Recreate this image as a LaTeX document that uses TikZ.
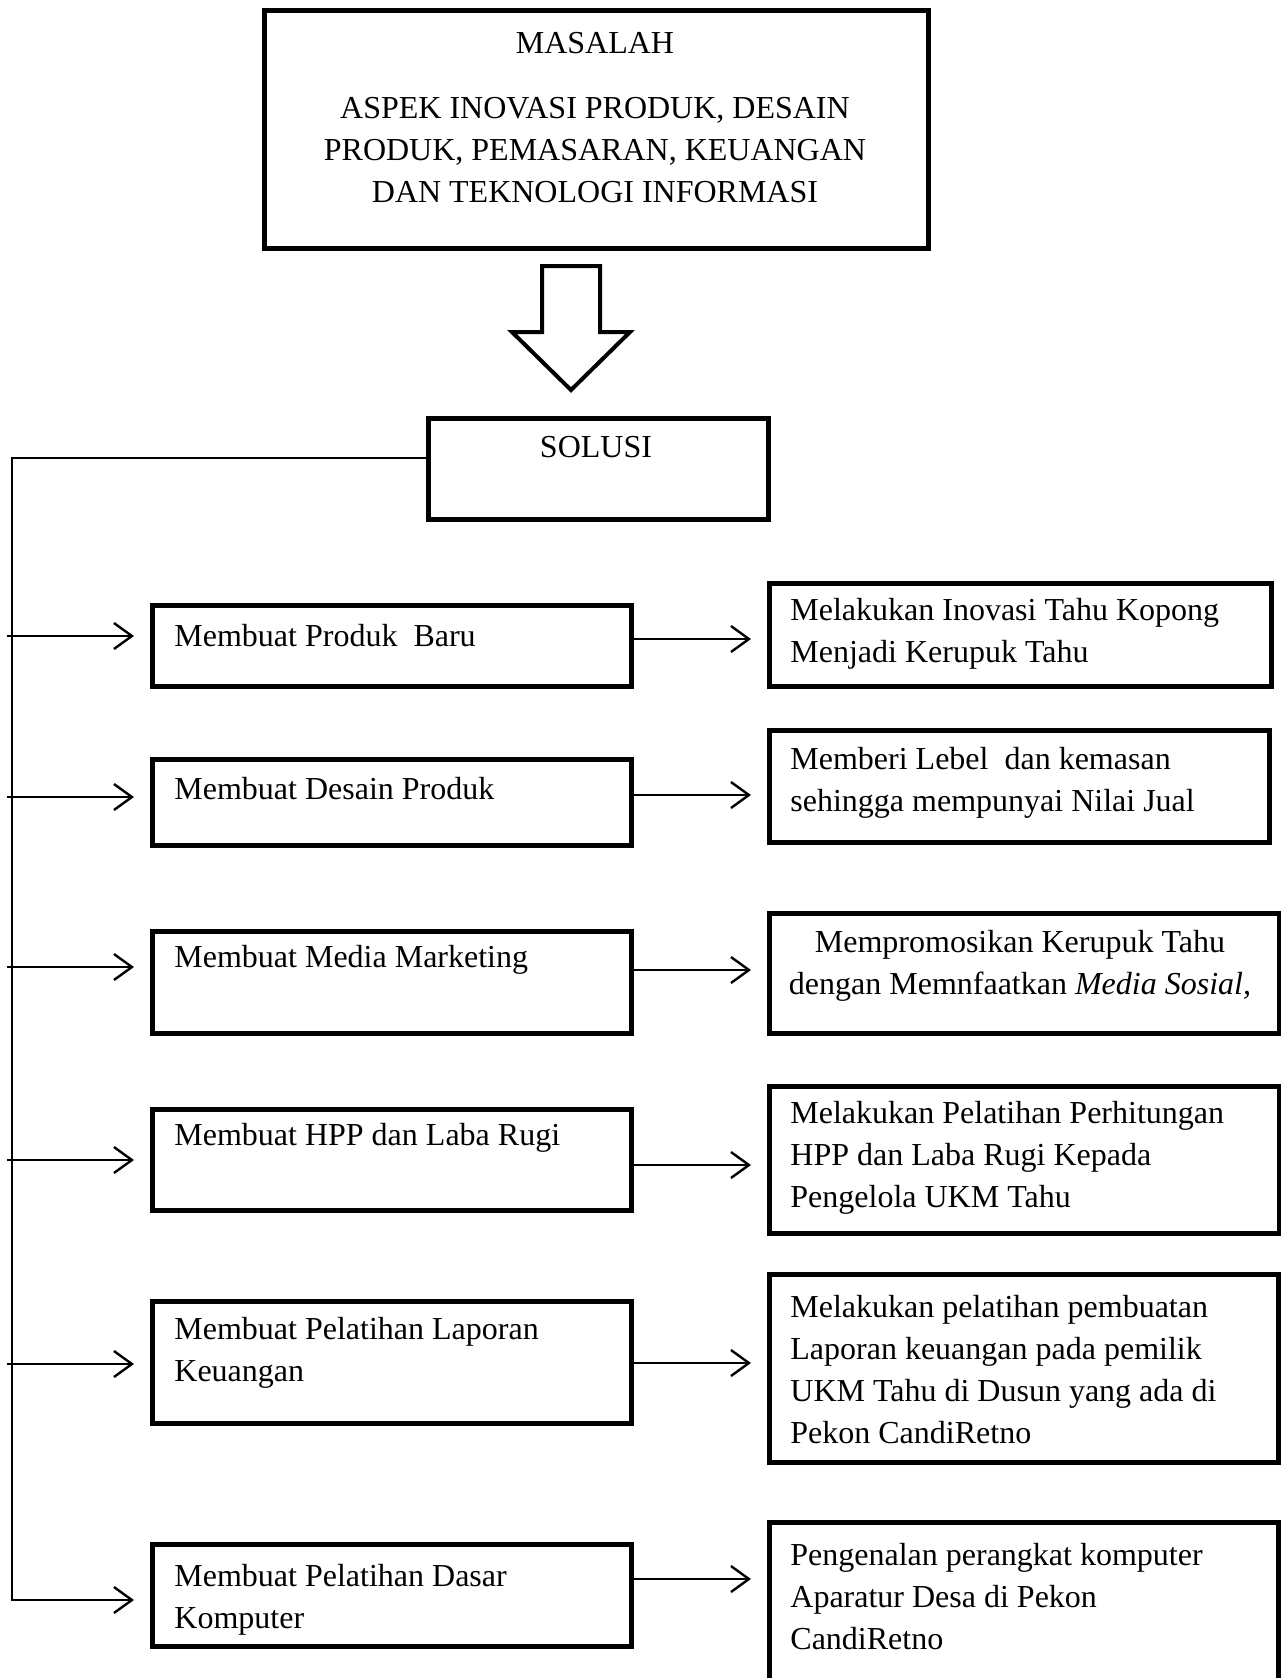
\documentclass[tikz,border=0pt]{standalone}
\usepackage{fontspec}
\setmainfont{Liberation Serif}
\usepackage{tikz}
\usetikzlibrary{arrows.meta}

\begin{document}
\begin{tikzpicture}[x=0.5pt,y=-0.5pt,
	kotak/.style={draw,line width=2.4pt,inner sep=0pt,anchor=north west},
	tulisan/.style={font=\fontsize{16}{21}\selectfont,inner sep=0pt,align=left,anchor=west},
	panah/.style={line width=1.2pt,-{Straight Barb[length=9pt,width=13pt]},shorten >=8pt}]
	\useasboundingbox (0,0) rectangle (1281,1678);

	\node[kotak,minimum width=332pt,minimum height=119pt] (masalah) at (262,8) {};
	\node[tulisan,anchor=center] (judul) at (595,43) {MASALAH};
	\node[tulisan,anchor=center,align=center] (aspek) at (595,150) {ASPEK INOVASI PRODUK, DESAIN\\PRODUK, PEMASARAN, KEUANGAN\\DAN TEKNOLOGI INFORMASI};

	\draw[line width=2pt,line join=miter] (542,266) -- (600,266) -- (600,332) -- (630,332) -- (571,390) -- (512,332) -- (542,332) -- cycle;

	\node[kotak,minimum width=170pt,minimum height=50.5pt] (solusi) at (426,416) {};
	\node[tulisan,anchor=center] (solusi-t) at (596,447) {SOLUSI};

	\node[kotak,minimum width=239.5pt,minimum height=40.5pt] (k1) at (150,603) {};
	\node[kotak,minimum width=239.5pt,minimum height=43pt] (k2) at (150,757) {};
	\node[kotak,minimum width=239.5pt,minimum height=51pt] (k3) at (150,929) {};
	\node[kotak,minimum width=239.5pt,minimum height=50.5pt] (k4) at (150,1107) {};
	\node[kotak,minimum width=239.5pt,minimum height=61pt] (k5) at (150,1299) {};
	\node[kotak,minimum width=239.5pt,minimum height=51pt] (k6) at (150,1542) {};

	\node[tulisan] (k1-t) at (174,636) {Membuat Produk~ Baru};
	\node[tulisan] (k2-t) at (174,789) {Membuat Desain Produk};
	\node[tulisan] (k3-t) at (174,960) {Membuat Media Marketing};
	\node[tulisan] (k4-t) at (174,1138) {Membuat HPP dan Laba Rugi};
	\node[tulisan] (k5-t) at (174,1353) {Membuat Pelatihan Laporan\\Keuangan};
	\node[tulisan] (k6-t) at (174,1600) {Membuat Pelatihan Dasar\\Komputer};

	\node[kotak,minimum width=251pt,minimum height=51.5pt] (r1) at (767,581) {};
	\node[kotak,minimum width=250pt,minimum height=56pt] (r2) at (767,728) {};
	\node[kotak,minimum width=255pt,minimum height=60pt] (r3) at (767,911) {};
	\node[kotak,minimum width=255pt,minimum height=73.5pt] (r4) at (767,1084) {};
	\node[kotak,minimum width=254.5pt,minimum height=94pt] (r5) at (767,1272) {};
	\node[kotak,minimum width=254.5pt,minimum height=100pt] (r6) at (767,1520) {};

	\node[tulisan] (r1-t) at (790,634) {Melakukan Inovasi Tahu Kopong\\Menjadi Kerupuk Tahu};
	\node[tulisan] (r2-t) at (790,783) {Memberi Lebel~ dan kemasan\\sehingga mempunyai Nilai Jual};
	\node[tulisan,anchor=center,align=center] (r3-t) at (1020,966) {Mempromosikan Kerupuk Tahu\\dengan Memnfaatkan \textit{Media Sosial,}};
	\node[tulisan] (r4-t) at (790,1158) {Melakukan Pelatihan Perhitungan\\HPP dan Laba Rugi Kepada\\Pengelola UKM Tahu};
	\node[tulisan] (r5-t) at (790,1370) {Melakukan pelatihan pembuatan\\Laporan keuangan pada pemilik\\UKM Tahu di Dusun yang ada di\\Pekon CandiRetno};
	\node[tulisan] (r6-t) at (790,1597) {Pengenalan perangkat komputer\\Aparatur Desa di Pekon\\CandiRetno};

	\coordinate (atas) at (12,458);
	\coordinate (bawah) at (12,1600);
	\draw[panah] (solusi.west |- atas) -- (atas) -- (bawah) -- (bawah -| k6.west);

	\foreach \i/\yk/\yr in {1/636/639,2/797/795,3/967/970,4/1160/1165,5/1364/1363}{
		\coordinate (a\i) at (7,\yk);
		\coordinate (b\i) at (700,\yr);
		\draw[panah] (a\i) -- (a\i -| k\i.west);
		\draw[panah] (k\i.east |- b\i) -- (r\i.west |- b\i);
	}
	\coordinate (b6) at (700,1579);
	\draw[panah] (k6.east |- b6) -- (r6.west |- b6);
\end{tikzpicture}
\end{document}
